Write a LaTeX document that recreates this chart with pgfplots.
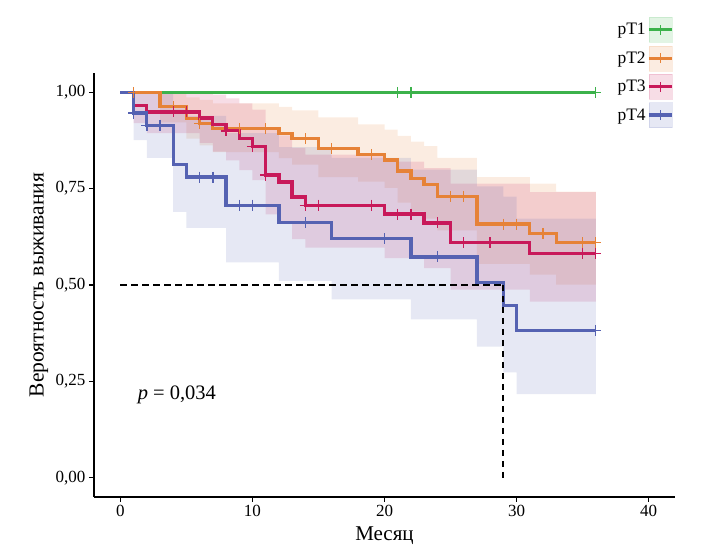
\documentclass[border=0pt]{standalone}
\usepackage{pgfplots}
\pgfplotsset{compat=1.18}
\usepgfplotslibrary{fillbetween}
\usepackage{fontspec}
\setmainfont{Liberation Serif}
\definecolor{cG}{RGB}{60,178,75}
\definecolor{cO}{RGB}{230,130,55}
\definecolor{cR}{RGB}{200,25,90}
\definecolor{cB}{RGB}{85,98,178}
\begin{document}
\begin{tikzpicture}
\begin{axis}[
  at={(94pt,60pt)}, anchor=south west,
  width=581pt, height=424pt, scale only axis,
  xmin=-2, xmax=42, ymin=-0.05, ymax=1.05,
  axis x line*=bottom, axis y line*=left,
  axis line style={line width=1.3pt,-},
  xtick={0,10,20,30,40}, xticklabels={0,10,20,30,40},
  ytick={0,0.25,0.5,0.75,1}, yticklabels={{0,00},{0,25},{0,50},{0,75},{1,00}},
  tick align=outside, major tick length=5pt,
  tick style={line width=1.1pt, black},
  ticklabel style={font=\fontsize{17}{20}\selectfont},
  xlabel={Месяц}, ylabel={Вероятность выживания},
  every axis x label/.style={at={(axis description cs:0.5,-0.092)}, anchor=center, font=\fontsize{21}{24}\selectfont},
  every axis y label/.style={at={(axis description cs:-0.095,0.5)}, anchor=center, rotate=90, font=\fontsize{21.5}{24}\selectfont},
  legend style={at={(axis description cs:0.893,1.137)}, anchor=north west, draw=none, fill=none,
     font=\fontsize{17.5}{20}\selectfont, legend cell align=right, row sep=3pt, nodes={inner sep=1.5pt}},
  legend plot pos=right,
]
\addlegendimage{color=cG, legend image code/.code={\fill[cG, opacity=0.15] (0pt,-12.5pt) rectangle (23pt,12.5pt); \draw[cG, line width=3.2pt] (0pt,0pt) -- (23pt,0pt); \draw[cG, line width=1.4pt] (11.5pt,-5pt) -- (11.5pt,5pt);}}
\addlegendimage{color=cO, legend image code/.code={\fill[cO, opacity=0.15] (0pt,-12.5pt) rectangle (23pt,12.5pt); \draw[cO, line width=3.2pt] (0pt,0pt) -- (23pt,0pt); \draw[cO, line width=1.4pt] (11.5pt,-5pt) -- (11.5pt,5pt);}}
\addlegendimage{color=cR, legend image code/.code={\fill[cR, opacity=0.15] (0pt,-12.5pt) rectangle (23pt,12.5pt); \draw[cR, line width=3.2pt] (0pt,0pt) -- (23pt,0pt); \draw[cR, line width=1.4pt] (11.5pt,-5pt) -- (11.5pt,5pt);}}
\addlegendimage{color=cB, legend image code/.code={\fill[cB, opacity=0.15] (0pt,-12.5pt) rectangle (23pt,12.5pt); \draw[cB, line width=3.2pt] (0pt,0pt) -- (23pt,0pt); \draw[cB, line width=1.4pt] (11.5pt,-5pt) -- (11.5pt,5pt);}}
\legend{pT1,pT2,pT3,pT4}

% ---- confidence bands ----
% pT2
\addplot[name path=oU, const plot, draw=none, forget plot] coordinates {(0,1) (3,1) (5,0.987) (6,0.980) (7,0.971) (12,0.962) (13,0.953) (15,0.935) (18,0.917) (20,0.903) (21,0.887) (22,0.872) (23,0.860) (24,0.830) (27,0.780) (31,0.763) (33,0.742) (36,0.742)};
\addplot[name path=oL, const plot, draw=none, forget plot] coordinates {(0,1) (3,0.922) (5,0.880) (6,0.862) (7,0.845) (12,0.829) (13,0.812) (15,0.780) (18,0.768) (20,0.752) (21,0.714) (22,0.691) (23,0.672) (24,0.642) (27,0.555) (31,0.527) (33,0.501) (36,0.501)};
\addplot[fill=cO, fill opacity=0.15, draw=none, forget plot] fill between[of=oU and oL];
% pT3
\addplot[name path=rU, const plot, draw=none, forget plot] coordinates {(0,1) (1,1) (2,1) (6,1) (7,0.994) (8,0.984) (9,0.971) (10,0.955) (11,0.902) (12,0.888) (13,0.856) (14,0.838) (20,0.820) (23,0.803) (25,0.763) (31,0.741) (36,0.741)};
\addplot[name path=rL, const plot, draw=none, forget plot] coordinates {(0,1) (1,0.920) (2,0.894) (6,0.869) (7,0.846) (8,0.823) (9,0.798) (10,0.772) (11,0.683) (12,0.662) (13,0.619) (14,0.597) (20,0.570) (23,0.544) (25,0.488) (31,0.457) (36,0.457)};
\addplot[fill=cR, fill opacity=0.15, draw=none, forget plot] fill between[of=rU and rL];
% pT4
\addplot[name path=bU, const plot, draw=none, forget plot] coordinates {(0,1) (1,1) (2,1) (4,0.958) (5,0.939) (8,0.894) (12,0.858) (16,0.830) (22,0.799) (27,0.756) (29,0.729) (30,0.672) (36,0.672)};
\addplot[name path=bL, const plot, draw=none, forget plot] coordinates {(0,1) (1,0.876) (2,0.830) (4,0.690) (5,0.648) (8,0.559) (12,0.511) (16,0.463) (22,0.411) (27,0.340) (29,0.273) (30,0.217) (36,0.217)};
\addplot[fill=cB, fill opacity=0.15, draw=none, forget plot] fill between[of=bU and bL];

% ---- survival curves ----
\addplot[cG, line width=3.3pt, const plot, forget plot] coordinates {(0,1) (36,1)};
\addplot[cG, only marks, mark=+, mark size=5.5pt, mark options={line width=1.4pt}, forget plot] coordinates {(21,1) (22,1) (36,1)};

\addplot[cO, line width=3.3pt, const plot, forget plot] coordinates {(0,1) (3,0.963) (5,0.932) (6,0.919) (7,0.906) (12,0.893) (13,0.880) (15,0.854) (18,0.839) (20,0.824) (21,0.796) (22,0.776) (23,0.760) (24,0.730) (27,0.658) (31,0.634) (33,0.610) (36,0.610)};
\addplot[cO, only marks, mark=+, mark size=5.5pt, mark options={line width=1.4pt}, forget plot] coordinates {(1,1) (4,0.963) (6,0.919) (9,0.906) (11,0.906) (14,0.880) (16,0.854) (19,0.839) (25,0.730) (26,0.730) (29,0.658) (30,0.658) (32,0.634) (35,0.610) (36,0.610)};

\addplot[cR, line width=3.3pt, const plot, forget plot] coordinates {(0,1) (1,0.966) (2,0.949) (6,0.933) (7,0.917) (8,0.900) (9,0.880) (10,0.859) (11,0.785) (12,0.767) (13,0.728) (14,0.707) (20,0.684) (23,0.661) (25,0.610) (31,0.582) (36,0.582)};
\addplot[cR, only marks, mark=+, mark size=5.5pt, mark options={line width=1.4pt}, forget plot] coordinates {(4,0.949) (5,0.949) (8,0.900) (10,0.859) (11,0.785) (14,0.707) (15,0.707) (19,0.707) (21,0.684) (22,0.684) (24,0.661) (26,0.610) (28,0.610) (35,0.582) (36,0.582)};

\addplot[cB, line width=3.3pt, const plot, forget plot] coordinates {(0,1) (1,0.946) (2,0.914) (4,0.813) (5,0.780) (8,0.707) (12,0.662) (16,0.620) (22,0.573) (27,0.507) (29,0.446) (30,0.382) (36,0.382)};
\addplot[cB, only marks, mark=+, mark size=5.5pt, mark options={line width=1.4pt}, forget plot] coordinates {(1,0.946) (2,0.914) (3,0.914) (6,0.780) (7,0.780) (9,0.707) (10,0.707) (14,0.662) (20,0.620) (24,0.573) (36,0.382)};

% ---- median line ----
\addplot[black, line width=2pt, dash pattern=on 6.5pt off 4.5pt, forget plot] coordinates {(0,0.5) (29,0.5)};
\addplot[black, line width=2pt, dash pattern=on 6.5pt off 4.5pt, forget plot] coordinates {(29,0.5) (29,0)};

\node[anchor=west, inner sep=0pt, font=\fontsize{20.5}{24}\selectfont] at (axis cs:1.3,0.215) {\textit{p} = 0,034};
\end{axis}
\path (0,0) rectangle (707pt,557pt);
\end{tikzpicture}
\end{document}
